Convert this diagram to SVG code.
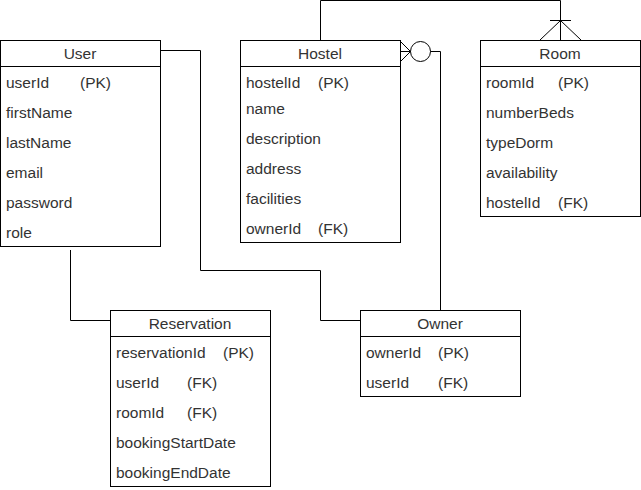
<svg xmlns="http://www.w3.org/2000/svg" width="641" height="490" viewBox="0 0 641 490">
<style>
.box{fill:#fff;stroke:#000;stroke-width:1}
.ln{fill:none;stroke:#000;stroke-width:1}
.t{font-family:"Liberation Sans",Arial,sans-serif;font-size:15.5px;fill:#333}
.h{text-anchor:middle}
</style>
<rect width="641" height="490" fill="#fff"/>
<g id="connectors">
<path class="ln" d="M70.5 250 V320.5 H110"/>
<path class="ln" d="M160 50.5 H200.5 V270.5 H320.5 V320.5 H360"/>
<path class="ln" d="M320.5 40 V0.5 H560.5 V40"/>
<path class="ln" d="M550 20.5 H571 M560.5 20.5 L540 40 M560.5 20.5 L581 40"/>
<path class="ln" d="M400 41 L410.5 51.5 L400 62 M400 51.5 H410.5"/>
<circle class="ln" cx="420.5" cy="51.5" r="10"/>
<path class="ln" d="M430.5 51.5 H440.5 V310"/>
</g>
<g id="user">
<rect class="box" x="0.5" y="40.5" width="160" height="206"/>
<path class="ln" d="M0.5 66.5 H160.5"/>
<text class="t h" x="80" y="59">User</text>
<text class="t" x="6" y="88">userId</text><text class="t" x="80" y="88">(PK)</text>
<text class="t" x="6" y="118">firstName</text>
<text class="t" x="6" y="148">lastName</text>
<text class="t" x="6" y="178">email</text>
<text class="t" x="6" y="208">password</text>
<text class="t" x="6" y="238">role</text>
</g>
<g id="hostel">
<rect class="box" x="240.5" y="40.5" width="160" height="202"/>
<path class="ln" d="M240.5 66.5 H400.5"/>
<text class="t h" x="320" y="59">Hostel</text>
<text class="t" x="246" y="88">hostelId</text><text class="t" x="318" y="88">(PK)</text>
<text class="t" x="246" y="114">name</text>
<text class="t" x="246" y="144">description</text>
<text class="t" x="246" y="174">address</text>
<text class="t" x="246" y="204">facilities</text>
<text class="t" x="246" y="234">ownerId</text><text class="t" x="318" y="234">(FK)</text>
</g>
<g id="room">
<rect class="box" x="480.5" y="40.5" width="160" height="176"/>
<path class="ln" d="M480.5 66.5 H640.5"/>
<text class="t h" x="560" y="59">Room</text>
<text class="t" x="486" y="88">roomId</text><text class="t" x="558" y="88">(PK)</text>
<text class="t" x="486" y="118">numberBeds</text>
<text class="t" x="486" y="148">typeDorm</text>
<text class="t" x="486" y="178">availability</text>
<text class="t" x="486" y="208">hostelId</text><text class="t" x="558" y="208">(FK)</text>
</g>
<g id="reservation">
<rect class="box" x="110.5" y="310.5" width="160" height="176"/>
<path class="ln" d="M110.5 336.5 H270.5"/>
<text class="t h" x="190" y="329">Reservation</text>
<text class="t" x="116" y="358">reservationId</text><text class="t" x="223" y="358">(PK)</text>
<text class="t" x="116" y="388">userId</text><text class="t" x="187" y="388">(FK)</text>
<text class="t" x="116" y="418">roomId</text><text class="t" x="187" y="418">(FK)</text>
<text class="t" x="116" y="448">bookingStartDate</text>
<text class="t" x="116" y="478">bookingEndDate</text>
</g>
<g id="owner">
<rect class="box" x="360.5" y="310.5" width="160" height="86"/>
<path class="ln" d="M360.5 336.5 H520.5"/>
<text class="t h" x="440" y="329">Owner</text>
<text class="t" x="366" y="358">ownerId</text><text class="t" x="438" y="358">(PK)</text>
<text class="t" x="366" y="388">userId</text><text class="t" x="438" y="388">(FK)</text>
</g>
</svg>
